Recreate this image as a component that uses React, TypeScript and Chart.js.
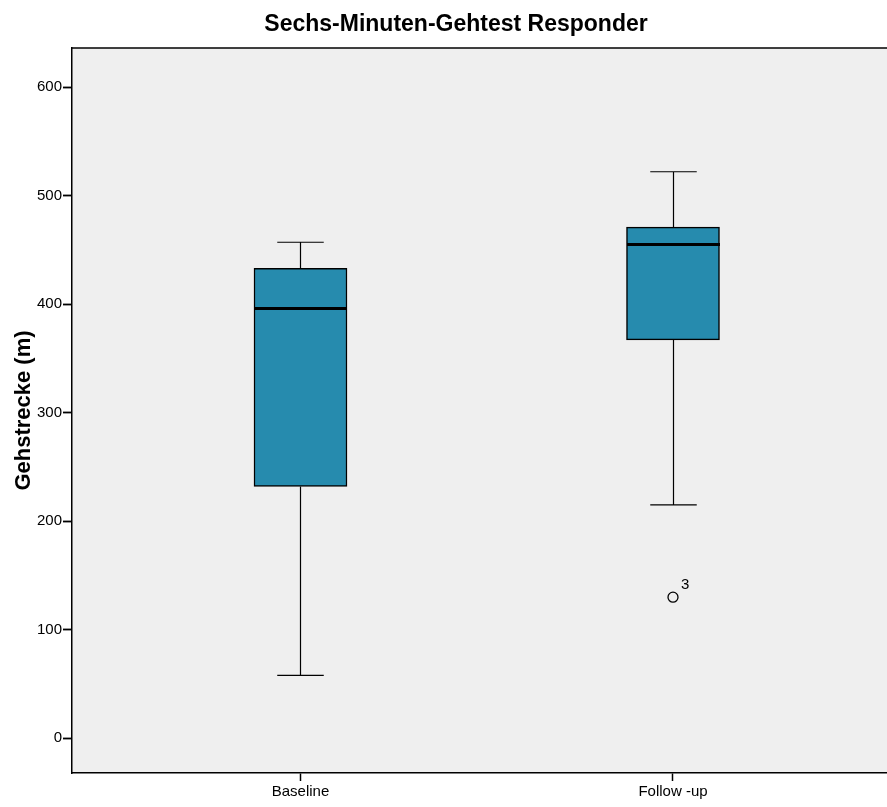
import { useEffect, useRef } from "react";
import { Chart, registerables } from "chart.js";

Chart.register(...registerables);

// Five-number summaries of the walking distance per measurement time
const groups = ["Baseline", "Follow -up"];
const whiskerLow = [58, 215];
const quartile1 = [232, 367];
const medians = [396, 455];
const quartile3 = [433, 471];
const whiskerHigh = [457, 522];

// Outliers: group index, value, case label
const outlierGroup = [1];
const outlierValues = [130];
const outlierIds = ["3"];

const yTickValues = [0, 100, 200, 300, 400, 500, 600];

const FONT = "'Liberation Sans', Arial, sans-serif";
const BOX_COLOR = "#268BAE";
const PLOT_BG = "#EFEFEF";
const BOX_WIDTH = 93;

const boxPartsPlugin = {
  id: "boxParts",
  beforeDraw(chart: any) {
    const { ctx, chartArea } = chart;
    ctx.save();
    ctx.fillStyle = PLOT_BG;
    ctx.fillRect(chartArea.left, chartArea.top, chartArea.right - chartArea.left, chartArea.bottom - chartArea.top);
    ctx.restore();
  },
  afterDatasetsDraw(chart: any) {
    const { ctx, scales } = chart;
    const x = scales.x;
    const y = scales.y;
    ctx.save();
    ctx.strokeStyle = "#000";
    groups.forEach((_, i) => {
      const cx = Math.round(x.getPixelForValue(i)) + 0.5;
      const capHalf = BOX_WIDTH / 4;
      ctx.lineWidth = 1.2;
      // upper whisker
      ctx.beginPath();
      ctx.moveTo(cx, y.getPixelForValue(quartile3[i]));
      ctx.lineTo(cx, y.getPixelForValue(whiskerHigh[i]));
      ctx.moveTo(cx - capHalf, y.getPixelForValue(whiskerHigh[i]));
      ctx.lineTo(cx + capHalf, y.getPixelForValue(whiskerHigh[i]));
      // lower whisker
      ctx.moveTo(cx, y.getPixelForValue(quartile1[i]));
      ctx.lineTo(cx, y.getPixelForValue(whiskerLow[i]));
      ctx.moveTo(cx - capHalf, y.getPixelForValue(whiskerLow[i]));
      ctx.lineTo(cx + capHalf, y.getPixelForValue(whiskerLow[i]));
      ctx.stroke();
      // median
      ctx.lineWidth = 3;
      ctx.beginPath();
      ctx.moveTo(cx - BOX_WIDTH / 2, y.getPixelForValue(medians[i]));
      ctx.lineTo(cx + BOX_WIDTH / 2, y.getPixelForValue(medians[i]));
      ctx.stroke();
    });
    // outlier case labels
    ctx.fillStyle = "#000";
    ctx.font = `15px ${FONT}`;
    ctx.textAlign = "left";
    ctx.textBaseline = "middle";
    outlierValues.forEach((v, k) => {
      ctx.fillText(outlierIds[k], x.getPixelForValue(outlierGroup[k]) + 8, y.getPixelForValue(v) - 12);
    });
    ctx.restore();
  },
  afterDraw(chart: any) {
    const { ctx, chartArea } = chart;
    ctx.save();
    // top frame line
    ctx.strokeStyle = "#000";
    ctx.lineWidth = 1.5;
    ctx.beginPath();
    ctx.moveTo(chartArea.left, chartArea.top);
    ctx.lineTo(chartArea.right, chartArea.top);
    ctx.stroke();
    // title
    ctx.fillStyle = "#000";
    ctx.font = `bold 23px ${FONT}`;
    ctx.textAlign = "center";
    ctx.textBaseline = "middle";
    ctx.fillText("Sechs-Minuten-Gehtest Responder", 456, 25);
    ctx.restore();
  },
};

export default function App() {
  const canvasRef = useRef<HTMLCanvasElement | null>(null);

  useEffect(() => {
    if (!canvasRef.current) return;
    const chart = new Chart(canvasRef.current, {
      type: "bar",
      data: {
        datasets: [
          {
            type: "bar",
            data: groups.map((_, i) => ({ x: i, y: [quartile1[i], quartile3[i]] })) as any,
            backgroundColor: BOX_COLOR,
            borderColor: "#000",
            borderWidth: 1.5,
            borderSkipped: false,
            barThickness: BOX_WIDTH,
          },
          {
            type: "scatter",
            data: outlierValues.map((v, k) => ({ x: outlierGroup[k], y: v })),
            pointStyle: "circle",
            pointRadius: 5,
            backgroundColor: "rgba(0,0,0,0)",
            borderColor: "#000",
            borderWidth: 1.3,
          } as any,
        ],
      },
      options: {
        responsive: false,
        animation: false,
        layout: { autoPadding: false, padding: { top: 48, left: 0, right: 0, bottom: 0 } },
        plugins: {
          legend: { display: false },
          tooltip: { enabled: false },
          title: { display: false },
        },
        scales: {
          x: {
            type: "linear",
            min: -0.6134,
            max: 1.5745,
            offset: false,
            afterBuildTicks: (scale: any) => {
              scale.ticks = groups.map((_, i) => ({ value: i }));
            },
            afterFit: (scale: any) => {
              scale.height = 34;
              scale.paddingLeft = 0;
              scale.paddingRight = 0;
            },
            ticks: {
              color: "#000",
              font: { family: FONT, size: 15 },
              padding: 2,
              maxRotation: 0,
              callback: (v: any) => groups[v as number] ?? "",
            },
            grid: {
              offset: false,
              drawOnChartArea: false,
              drawTicks: true,
              tickLength: 8,
              tickWidth: 1.5,
              tickColor: "#000",
            },
            border: { display: true, color: "#000", width: 1.5 },
          },
          y: {
            type: "linear",
            min: -32,
            max: 636,
            afterBuildTicks: (scale: any) => {
              scale.ticks = yTickValues.map((v) => ({ value: v }));
            },
            afterFit: (scale: any) => {
              scale.width = 72;
            },
            ticks: {
              color: "#000",
              font: { family: FONT, size: 15 },
              padding: 1,
            },
            grid: {
              drawOnChartArea: false,
              drawTicks: true,
              tickLength: 9,
              tickWidth: 1.8,
              tickColor: "#000",
            },
            border: { display: true, color: "#000", width: 1.5 },
            title: {
              display: true,
              text: "Gehstrecke (m)",
              color: "#000",
              font: { family: FONT, size: 22, weight: "bold" },
              padding: { top: 11, bottom: 0 },
            },
          },
        },
      },
      plugins: [boxPartsPlugin],
    });
    return () => chart.destroy();
  }, []);

  return (
    <div style={{ position: "fixed", left: 0, top: 0, width: 887, height: 807, background: "#fff" }}>
      <canvas ref={canvasRef} width={887} height={807} />
    </div>
  );
}
